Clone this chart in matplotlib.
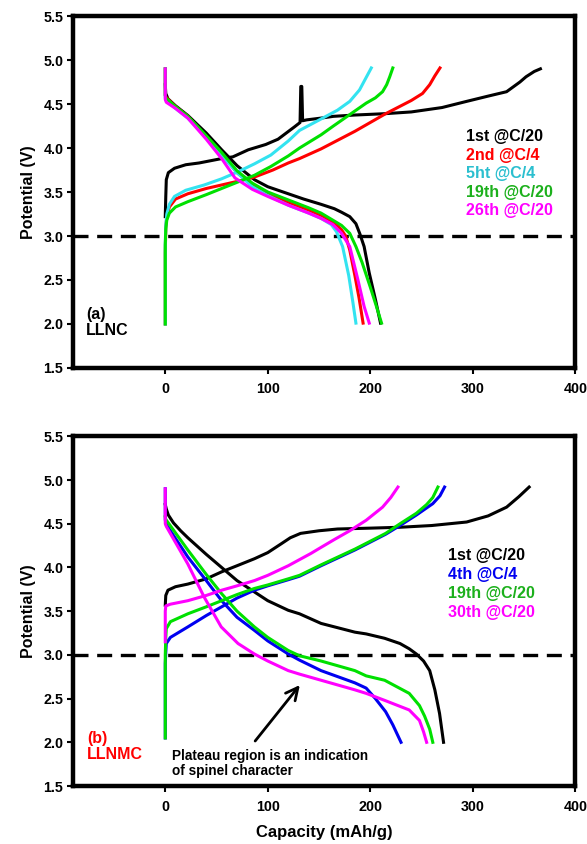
import matplotlib
matplotlib.use("Agg")
import matplotlib.pyplot as plt

plt.rcParams["font.family"] = ["Liberation Sans", "DejaVu Sans"]
plt.rcParams["font.weight"] = "bold"

# Colors
C_BLK = "#000000"
C_RED = "#FF0000"
C_CYN = "#33E3F0"
C_GRN = "#00E000"
C_MAG = "#FF00FF"
C_BLU = "#0000F0"
T_CYN = "#2BBFCF"
T_GRN = "#1CB01C"

# ─── (a) LLNC ────────────────────────────────────────────────
a_c1_x = [0, 0.5, 1, 3, 9, 20, 33, 55, 66, 81, 98, 110, 126, 131.5, 132.2, 133.2, 134, 138, 152, 164, 185, 214, 240, 270, 294, 315, 333, 346, 352, 360, 366]
a_c1_y = [3.22, 3.45, 3.64, 3.72, 3.77, 3.81, 3.83, 3.88, 3.90, 3.98, 4.04, 4.10, 4.24, 4.29, 4.70, 4.70, 4.31, 4.32, 4.34, 4.36, 4.375, 4.39, 4.41, 4.46, 4.53, 4.59, 4.64, 4.75, 4.81, 4.87, 4.90]
a_d1_x = [0, 0.5, 2.6, 10, 22, 40, 55, 70, 87, 100, 120, 135, 152, 165, 172, 180, 186, 190, 194, 199, 205, 210]
a_d1_y = [4.72, 4.62, 4.56, 4.48, 4.37, 4.17, 3.98, 3.80, 3.64, 3.56, 3.48, 3.42, 3.36, 3.31, 3.27, 3.22, 3.14, 3.02, 2.88, 2.58, 2.28, 2.01]

a_c2_x = [0, 0, 0.5, 1.5, 4, 10, 22, 40, 55, 70, 87, 105, 120, 131, 152, 185, 215, 240, 251, 258, 263, 268]
a_c2_y = [2.0, 2.8, 3.1, 3.22, 3.33, 3.42, 3.48, 3.54, 3.58, 3.62, 3.67, 3.75, 3.83, 3.88, 3.99, 4.19, 4.39, 4.54, 4.62, 4.72, 4.82, 4.91]
a_d2_x = [0, 0, 0.5, 10, 22, 40, 55, 70, 85, 100, 120, 140, 152, 165, 172, 176, 180, 185, 189, 193]
a_d2_y = [4.9, 4.6, 4.58, 4.47, 4.36, 4.13, 3.93, 3.72, 3.58, 3.48, 3.38, 3.29, 3.23, 3.15, 3.07, 3.0, 2.84, 2.55, 2.3, 2.01]

a_c5_x = [0, 0, 0.5, 1.5, 4, 9, 20, 38, 55, 71, 87, 103, 120, 131, 152, 168, 180, 189.5, 195, 201]
a_c5_y = [2.0, 2.9, 3.12, 3.25, 3.36, 3.45, 3.52, 3.58, 3.65, 3.73, 3.82, 3.92, 4.08, 4.2, 4.33, 4.43, 4.53, 4.66, 4.78, 4.91]
a_d5_x = [0, 0, 0.5, 10, 22, 40, 55, 70, 85, 100, 120, 140, 152, 162, 167, 173, 179, 183, 186]
a_d5_y = [4.9, 4.57, 4.55, 4.45, 4.34, 4.12, 3.92, 3.72, 3.56, 3.46, 3.35, 3.26, 3.20, 3.13, 3.05, 2.88, 2.55, 2.25, 2.01]

a_c19_x = [0, 0, 0.5, 1.5, 4, 10, 22, 40, 55, 70, 87, 103, 120, 131, 152, 164, 180, 196, 205, 212, 216, 219, 222]
a_c19_y = [2.0, 2.9, 3.08, 3.18, 3.26, 3.33, 3.39, 3.47, 3.54, 3.61, 3.69, 3.79, 3.91, 4.0, 4.15, 4.25, 4.38, 4.51, 4.57, 4.64, 4.72, 4.81, 4.91]
a_d19_x = [0, 0, 0.5, 10, 22, 40, 55, 70, 85, 100, 120, 140, 152, 163.5, 172, 180, 186, 192, 200, 206, 211]
a_d19_y = [4.9, 4.6, 4.57, 4.47, 4.36, 4.14, 3.95, 3.74, 3.60, 3.50, 3.41, 3.32, 3.26, 3.18, 3.12, 3.03, 2.88, 2.70, 2.42, 2.20, 2.01]

a_d26_x = [0, 0, 1, 10, 22, 40, 55, 68, 85, 100, 120, 140, 152, 163.5, 172, 180, 188, 194, 199]
a_d26_y = [4.9, 4.55, 4.52, 4.45, 4.34, 4.10, 3.88, 3.66, 3.53, 3.45, 3.35, 3.26, 3.20, 3.13, 3.03, 2.88, 2.50, 2.20, 2.01]

# ─── (b) LLNMC ───────────────────────────────────────────────
b_c1_x = [0, 0.5, 2.6, 10, 22, 40, 55, 70, 87, 100, 113, 122, 132, 150, 168, 200, 229, 260, 294, 315, 333, 345, 355]
b_c1_y = [3.57, 3.68, 3.74, 3.78, 3.81, 3.87, 3.95, 4.02, 4.10, 4.17, 4.27, 4.34, 4.39, 4.42, 4.44, 4.45, 4.46, 4.48, 4.52, 4.59, 4.69, 4.81, 4.92]
b_d1_x = [0, 1, 3, 8, 15, 22, 40, 55, 70, 87, 100, 120, 131, 152, 185, 196, 214, 229, 238, 245, 252, 258, 263, 267.6, 271.5]
b_d1_y = [4.72, 4.67, 4.60, 4.51, 4.42, 4.34, 4.15, 4.0, 3.85, 3.72, 3.62, 3.51, 3.47, 3.36, 3.26, 3.24, 3.19, 3.13, 3.07, 3.01, 2.93, 2.82, 2.6, 2.33, 2.0]

b_c4_x = [0, 0, 0.5, 1, 5, 22, 40, 55, 70, 87, 100, 120, 131, 152, 185, 215, 229, 245, 261, 268, 272.5]
b_c4_y = [2.05, 2.9, 3.03, 3.13, 3.2, 3.32, 3.45, 3.55, 3.65, 3.74, 3.79, 3.86, 3.90, 4.02, 4.20, 4.38, 4.48, 4.60, 4.73, 4.82, 4.92]
b_d4_x = [0, 0, 0.5, 22, 40, 55, 70, 87, 100, 120, 131, 152, 185, 196, 205, 215, 222, 230]
b_d4_y = [4.9, 4.55, 4.5, 4.12, 3.85, 3.62, 3.43, 3.28, 3.16, 3.01, 2.94, 2.82, 2.68, 2.62, 2.5, 2.35, 2.2, 2.0]

b_c19_x = [0, 0, 0.5, 1, 5, 22, 40, 55, 70, 87, 100, 120, 131, 152, 185, 215, 229, 245, 255, 261, 266]
b_c19_y = [2.05, 3.0, 3.2, 3.3, 3.38, 3.47, 3.55, 3.62, 3.69, 3.76, 3.80, 3.87, 3.91, 4.03, 4.21, 4.39, 4.50, 4.62, 4.72, 4.80, 4.92]
b_d19_x = [0, 0.5, 22, 40, 55, 70, 87, 100, 120, 131, 152, 185, 196, 214, 238, 248, 253, 258, 261]
b_d19_y = [4.58, 4.55, 4.2, 3.92, 3.70, 3.5, 3.32, 3.2, 3.05, 2.99, 2.93, 2.82, 2.76, 2.71, 2.56, 2.42, 2.3, 2.15, 2.0]

b_c30_x = [0, 0, 0.5, 5, 22, 40, 55, 70, 87, 100, 120, 131, 142, 152, 165, 180, 196, 212, 220, 227]
b_c30_y = [3.15, 3.5, 3.56, 3.58, 3.62, 3.68, 3.74, 3.79, 3.85, 3.91, 4.02, 4.09, 4.16, 4.23, 4.32, 4.42, 4.54, 4.69, 4.80, 4.92]
b_d30_x = [0, 0, 1, 22, 38, 54.6, 71, 87, 100, 120, 131, 152, 185, 196, 214, 238, 248, 252, 255]
b_d30_y = [4.9, 4.5, 4.47, 4.04, 3.66, 3.32, 3.13, 3.01, 2.93, 2.82, 2.78, 2.71, 2.60, 2.56, 2.48, 2.37, 2.25, 2.12, 2.0]

a_labels = ["1st @C/20", "2nd @C/4", "5ht @C/4", "19th @C/20", "26th @C/20"]
a_label_colors = [C_BLK, C_RED, T_CYN, T_GRN, C_MAG]
b_labels = ["1st @C/20", "4th @C/4", "19th @C/20", "30th @C/20"]
b_label_colors = [C_BLK, C_BLU, T_GRN, C_MAG]

CUTOFF = 3.0
X_TICKS = [0, 100, 200, 300, 400]
Y_TICKS = [1.5, 2.0, 2.5, 3.0, 3.5, 4.0, 4.5, 5.0, 5.5]

fig = plt.figure(figsize=(5.87, 8.44), dpi=100)
ax_a = fig.add_axes([0.1244, 0.564, 0.8556, 0.417])
ax_b = fig.add_axes([0.1244, 0.0687, 0.8556, 0.4143])

LW = 2.2


def style_axes(ax):
    ax.set_xlim(-90, 400)
    ax.set_ylim(1.5, 5.5)
    ax.set_xticks(X_TICKS)
    ax.set_yticks(Y_TICKS)
    ax.set_yticklabels([f"{v:.1f}" for v in Y_TICKS])
    for s in ax.spines.values():
        s.set_linewidth(3.2)
    ax.tick_params(direction="out", length=4, width=1.5, labelsize=10.3,
                   top=False, right=False)
    ax.tick_params(axis="x", pad=6)
    ax.tick_params(axis="y", pad=3)
    for lab in ax.get_xticklabels() + ax.get_yticklabels():
        lab.set_fontweight("bold")
    ax.axhline(CUTOFF, color="black", lw=2.4, ls=(0, (4.5, 2.6)), zorder=1)
    ax.set_ylabel("Potential (V)", fontsize=11.5, fontweight="bold", labelpad=5)


# panel (a)
style_axes(ax_a)
for (xc, yc, xd, yd, col) in [
    (a_c1_x, a_c1_y, a_d1_x, a_d1_y, C_BLK),
    (a_c2_x, a_c2_y, a_d2_x, a_d2_y, C_RED),
    (a_c5_x, a_c5_y, a_d5_x, a_d5_y, C_CYN),
    (a_c19_x, a_c19_y, a_d19_x, a_d19_y, C_GRN),
]:
    ax_a.plot(xc, yc, color=col, lw=LW, solid_joinstyle="round", zorder=3)
    ax_a.plot(xd, yd, color=col, lw=LW, solid_joinstyle="round", zorder=3)
ax_a.plot(a_d26_x, a_d26_y, color=C_MAG, lw=LW, solid_joinstyle="round", zorder=3)

for i, (t, c) in enumerate(zip(a_labels, a_label_colors)):
    ax_a.text(293, 4.13 - i * 0.21, t, color=c, fontsize=11.5, fontweight="bold",
              ha="left", va="center")
ax_a.text(-77, 2.02, "(a)\nLLNC", color="black", fontsize=11.5, fontweight="bold",
          ha="left", va="center", linespacing=1.05)

# panel (b)
style_axes(ax_b)
for (xc, yc, xd, yd, col) in [
    (b_c1_x, b_c1_y, b_d1_x, b_d1_y, C_BLK),
    (b_c4_x, b_c4_y, b_d4_x, b_d4_y, C_BLU),
    (b_c19_x, b_c19_y, b_d19_x, b_d19_y, C_GRN),
    (b_c30_x, b_c30_y, b_d30_x, b_d30_y, C_MAG),
]:
    ax_b.plot(xc, yc, color=col, lw=LW, solid_joinstyle="round", zorder=3)
    ax_b.plot(xd, yd, color=col, lw=LW, solid_joinstyle="round", zorder=3)

for i, (t, c) in enumerate(zip(b_labels, b_label_colors)):
    ax_b.text(276, 4.14 - i * 0.217, t, color=c, fontsize=11.5, fontweight="bold",
              ha="left", va="center")
ax_b.text(-76, 1.95, "(b)\nLLNMC", color=C_RED, fontsize=11.5, fontweight="bold",
          ha="left", va="center", linespacing=1.05)
ax_b.text(7, 1.76, "Plateau region is an indication\nof spinel character",
          color="black", fontsize=9.8, fontweight="bold", ha="left", va="center",
          linespacing=1.05)
ax_b.annotate("", xy=(133, 2.68), xytext=(86, 1.99),
              arrowprops=dict(arrowstyle="->", color="black", lw=2,
                              mutation_scale=22))
ax_b.set_xlabel("Capacity (mAh/g)", fontsize=12, fontweight="bold", labelpad=8)

fig.savefig("out.png", dpi=100, facecolor="white")
